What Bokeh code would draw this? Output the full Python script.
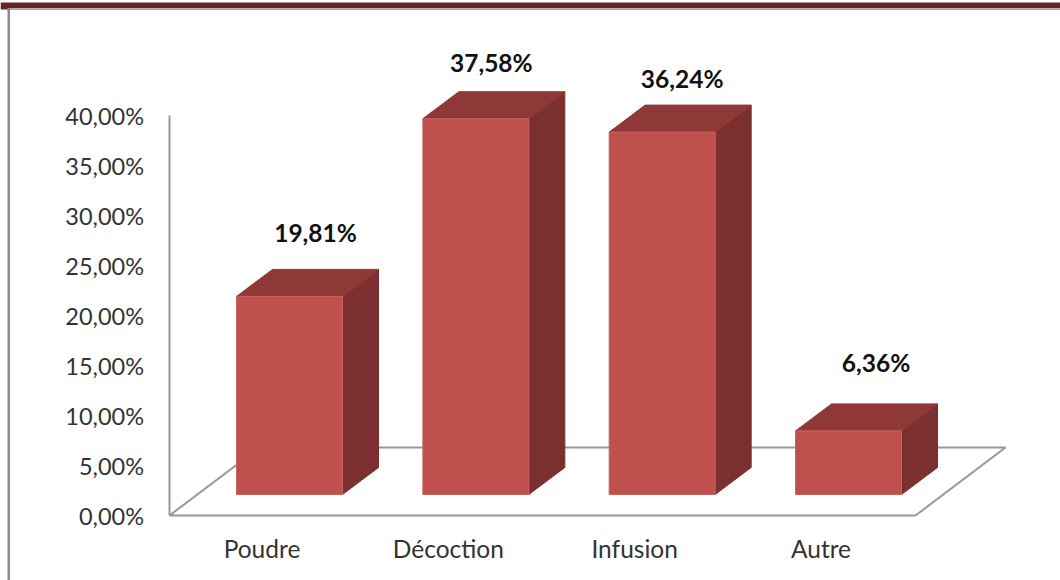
from bokeh.core.properties import value as fixed
from bokeh.embed import file_html
from bokeh.models import ColumnDataSource, FixedTicker, LinearAxis, Range1d
from bokeh.plotting import figure
from bokeh.resources import INLINE

# Chart data
categories = ["Poudre", "Décoction", "Infusion", "Autre"]
shares = [19.81, 37.58, 36.24, 6.36]
y_ticks = [0, 5, 10, 15, 20, 25, 30, 35, 40]
y_tick_labels = ["0,00%", "5,00%", "10,00%", "15,00%", "20,00%", "25,00%", "30,00%", "35,00%", "40,00%"]

# Page and scale geometry, in pixels
WIDTH, HEIGHT = 1060, 580
PX_PER_PERCENT = 10.0
ZERO_PX = 515.0
PX_PER_CATEGORY = 186.33
FIRST_LABEL_PX = 261.5

# Projection of the 3D bars
BAR_WIDTH_PX = 106.0
BAR_SHIFT_PX = 28.0       # front face centre relative to the category label
DEPTH_X_PX, DEPTH_Y_PX = 36.0, 27.0
BAR_FLOOR_PX = 21.0       # front face base above the front floor edge

FRONT_COLOR = "#C0504D"
TOP_COLOR = "#8E3937"
SIDE_COLOR = "#7B2F2E"
EDGE_COLOR = "#C8645F"
AXIS_COLOR = "#989898"
TEXT_COLOR = "#333333"
FONT = "Lato"


def dx(px):
    return px / PX_PER_CATEGORY


def dy(px):
    return px / PX_PER_PERCENT


def sx(px):
    return (px - FIRST_LABEL_PX) / PX_PER_CATEGORY


def sy(px):
    return (ZERO_PX - px) / PX_PER_PERCENT


p = figure(
    width=WIDTH, height=HEIGHT,
    x_range=Range1d(sx(0), sx(WIDTH)), y_range=Range1d(sy(HEIGHT), sy(0)),
    output_backend="svg", toolbar_location=None, tools="",
    min_border=0, x_axis_type=None, y_axis_type=None,
    outline_line_color=None, background_fill_color="white",
)
p.grid.visible = False

# Slide frame: dark band along the top, thin grey rules below it
p.quad(left=sx(0), right=sx(WIDTH), top=sy(2), bottom=sy(9), fill_color="#6A2326", line_color=None)
p.quad(left=sx(8), right=sx(WIDTH), top=sy(7.5), bottom=sy(9), fill_color="#B0B0B0", line_color=None)
p.quad(left=sx(7), right=sx(9.5), top=sy(7.5), bottom=sy(HEIGHT), fill_color="#8C8C8C", line_color=None)

# Floor parallelogram behind the bars
floor_x = [sx(169), sx(915), sx(1005), sx(259), sx(169)]
floor_y = [0, 0, dy(68), dy(68), 0]
p.line(floor_x, floor_y, line_color=AXIS_COLOR, line_width=2)

# Bars built from their values: front, top and side faces
front_xs, front_ys, top_xs, top_ys, side_xs, side_ys = [], [], [], [], [], []
base = dy(BAR_FLOOR_PX)
for i, share in enumerate(shares):
    left = i + dx(BAR_SHIFT_PX - 107.0 / 2)
    right = left + dx(BAR_WIDTH_PX)
    ceil = base + share
    ox, oy = dx(DEPTH_X_PX), dy(DEPTH_Y_PX)
    front_xs.append([left, right, right, left])
    front_ys.append([base, base, ceil, ceil])
    top_xs.append([left, right, right + ox, left + ox])
    top_ys.append([ceil, ceil, ceil + oy, ceil + oy])
    side_xs.append([right, right + ox, right + ox, right])
    side_ys.append([base, base + oy, ceil + oy, ceil])

p.patches(side_xs, side_ys, fill_color=SIDE_COLOR, line_color=SIDE_COLOR, line_width=1)
p.patches(top_xs, top_ys, fill_color=TOP_COLOR, line_color=TOP_COLOR, line_width=1)
p.patches(front_xs, front_ys, fill_color=FRONT_COLOR, line_color=EDGE_COLOR, line_width=1)

# Value labels above each bar, each nudged from the bar's top face
label_nudge_x = [53.5, 43, 47.5, 55]
label_nudge_y = [64, 56, 54, 68]
labels = ColumnDataSource(dict(
    x=[i + dx(n) for i, n in enumerate(label_nudge_x)],
    y=[base + s + dy(n) for s, n in zip(shares, label_nudge_y)],
    text=[f"{s:.2f}%".replace(".", ",") for s in shares],
))
p.text("x", "y", "text", source=labels, text_font=fixed(FONT), text_font_style="bold",
       text_font_size="24.5px", text_color="#111111", text_align="center", text_baseline="middle")

# Value axis drawn at the left edge of the floor
y_axis = LinearAxis(
    fixed_location=sx(168.5), bounds=(0, 40),
    ticker=FixedTicker(ticks=y_ticks),
    major_label_overrides=dict(zip(y_ticks, y_tick_labels)),
    major_tick_line_color=None, minor_tick_line_color=None,
    major_label_standoff=19,
    axis_line_color=AXIS_COLOR, axis_line_width=2,
    major_label_text_font=FONT, major_label_text_font_size="23.5px",
    major_label_text_color=TEXT_COLOR,
)
p.add_layout(y_axis, "left")

# Category axis: line hidden, only the names are shown
x_axis = LinearAxis(
    fixed_location=sy(522),
    ticker=FixedTicker(ticks=list(range(len(categories)))),
    major_label_overrides=dict(enumerate(categories)),
    major_tick_line_color=None, minor_tick_line_color=None,
    axis_line_color=None, major_label_standoff=5,
    major_label_text_font=FONT, major_label_text_font_size="24.5px",
    major_label_text_color=TEXT_COLOR,
)
p.add_layout(x_axis, "below")

open("out.html", "w").write(file_html(p, INLINE))
